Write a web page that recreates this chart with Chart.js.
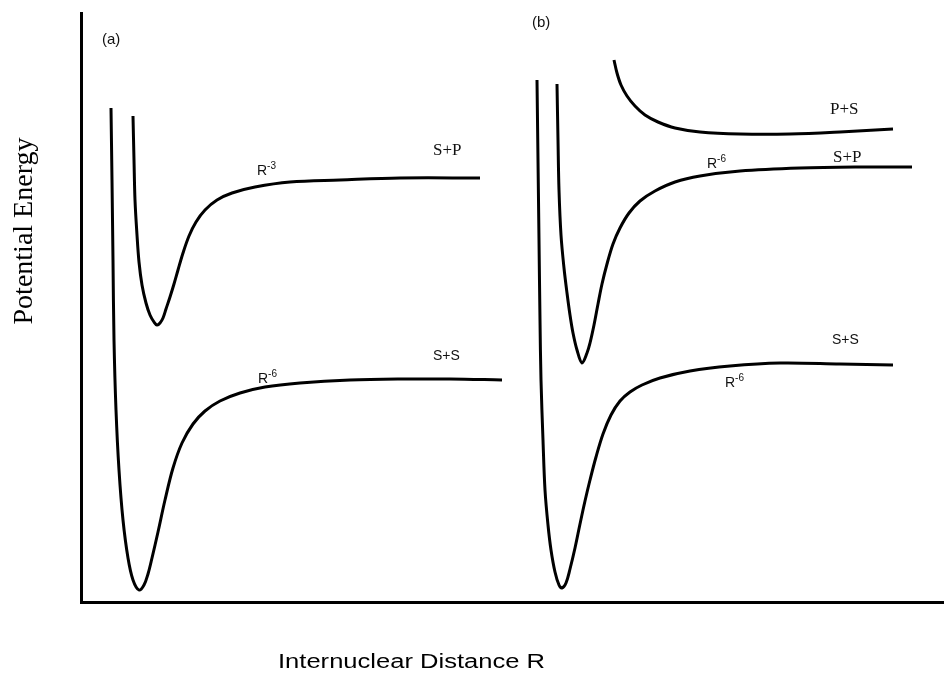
<!DOCTYPE html>
<html>
<head>
<meta charset="utf-8">
<script src="https://cdn.jsdelivr.net/npm/chart.js@4.4.1/dist/chart.umd.min.js"></script>
<style>
  html, body { margin: 0; padding: 0; background: #ffffff; }
  #wrap { width: 944px; height: 676px; }
</style>
</head>
<body>
<div id="wrap"><canvas id="grafica" width="944" height="676"></canvas></div>
<script>
// Curvas de energia potencial (unidades arbitrarias: R hacia la derecha, energia hacia arriba)
// (a) S+S, R^-6
const aSS_R = [30, 31, 32, 33, 35, 38, 42, 47, 52, 58, 63, 67, 71, 77, 84, 92, 101, 112, 124, 139, 159, 184, 219, 269, 319, 369, 421];
const aSS_E = [494, 422, 342, 262, 192, 132, 82, 44, 22, 12, 17, 28, 44, 70, 102, 134, 159, 178, 191, 201, 209, 215, 219, 222, 223, 223, 222];

// (a) S+P, R^-3
const aSP_R = [52, 53, 54, 56, 58, 61, 65, 69, 73, 76, 79, 82, 85, 89, 93, 97, 102, 108, 115, 124, 136, 151, 174, 209, 259, 319, 399];
const aSP_E = [486, 442, 402, 367, 340, 317, 299, 287, 280, 277, 279, 284, 293, 305, 318, 332, 349, 366, 380, 392, 402, 409, 415, 420, 422, 424, 424];

// (b) S+S, R^-6
const bSS_R = [456, 457, 458, 459, 460, 462, 464, 467, 470, 474, 478, 481, 485, 489, 494, 499, 504, 509, 515, 522, 530, 539, 549, 561, 579, 609, 649, 699, 759, 812];
const bSS_E = [522, 442, 362, 282, 222, 162, 112, 77, 52, 30, 17, 14, 19, 33, 54, 78, 101, 122, 145, 168, 187, 201, 210, 217, 224, 231, 236, 239, 238, 237];

// (b) S+P, R^-6
const bSP_R = [476, 477, 478, 480, 483, 486, 489, 492, 496, 501, 506, 509, 513, 517, 521, 526, 532, 539, 548, 559, 574, 594, 619, 659, 719, 779, 831];
const bSP_E = [518, 462, 412, 367, 334, 309, 287, 269, 252, 239, 249, 259, 277, 298, 318, 338, 358, 374, 389, 401, 411, 420, 426, 431, 434, 435, 435];

// (b) P+S, repulsiva
const bPS_R = [533, 536, 540, 546, 554, 564, 577, 594, 619, 659, 709, 759, 812];
const bPS_E = [542, 529, 517, 506, 496, 487, 480, 474, 470, 468, 468, 470, 473];

// Textos
const etiquetasPanel = ['(a)', '(b)'];
const etiquetasAsintota = ['S+P', 'S+S', 'P+S', 'S+P', 'S+S'];
const etiquetasPotencia = ['-3', '-6', '-6', '-6'];
const tituloX = 'Internuclear Distance R';
const tituloY = 'Potential Energy';

function puntos(rs, es) {
    let pts = [];
    for (let i = 0; i < rs.length; i++) {
        pts.push({ x: rs[i], y: es[i] });
    }
    return pts;
}

function serie(rs, es) {
    return {
        data: puntos(rs, es),
        showLine: true,
        borderColor: '#000000',
        borderWidth: 3,
        pointRadius: 0,
        tension: 0.35,
        fill: false
    };
}

// Textos dibujados sobre el grafico
const textos = {
    id: 'textos',
    afterDraw(chart) {
        const c = chart.ctx;
        const sx = chart.scales.x;
        const sy = chart.scales.y;
        const px = v => sx.getPixelForValue(v);
        const py = v => sy.getPixelForValue(v);
        c.save();
        c.fillStyle = '#111111';
        c.textBaseline = 'alphabetic';
        c.textAlign = 'left';

        // (a), (b)
        c.font = '15px "Liberation Sans", Arial, sans-serif';
        const posPanel = [[21, 558], [451, 575]];
        etiquetasPanel.forEach((t, i) => c.fillText(t, px(posPanel[i][0]), py(posPanel[i][1])));

        // asintotas
        const posAsint = [[352, 447, 'serif'], [352, 242, 'sans'], [749, 488, 'serif'], [752, 440, 'serif'], [751, 258, 'sans']];
        etiquetasAsintota.forEach((t, i) => {
            const p = posAsint[i];
            c.font = p[2] === 'serif' ? '17px "Liberation Serif", "Times New Roman", serif' : '14px "Liberation Sans", Arial, sans-serif';
            c.fillText(t, px(p[0]), py(p[1]));
        });

        // R con exponente
        const posPot = [[176, 427], [177, 219], [626, 434], [644, 215]];
        etiquetasPotencia.forEach((t, i) => {
            const x = px(posPot[i][0]);
            const y = py(posPot[i][1]);
            c.font = '14px "Liberation Sans", Arial, sans-serif';
            c.fillText('R', x, y);
            const w = c.measureText('R').width;
            c.font = '10px "Liberation Sans", Arial, sans-serif';
            c.fillText(t, x + w, y - 6);
        });

        // titulo eje x
        c.fillStyle = '#000000';
        c.font = '20px "Liberation Sans", Arial, sans-serif';
        c.save();
        c.translate(278, 668);
        const wx = c.measureText(tituloX).width;
        c.scale(267 / wx, 1);
        c.fillText(tituloX, 0, 0);
        c.restore();

        // titulo eje y
        c.font = '28px "Liberation Serif", "Times New Roman", serif';
        c.save();
        c.translate(32, 231);
        c.rotate(-Math.PI / 2);
        c.textAlign = 'center';
        c.fillText(tituloY, 0, 0);
        c.restore();

        c.restore();
    }
};

const ctx = document.getElementById('grafica');
const chart = new Chart(ctx, {
    type: 'scatter',
    data: {
        datasets: [
            serie(aSS_R, aSS_E),
            serie(aSP_R, aSP_E),
            serie(bSS_R, bSS_E),
            serie(bSP_R, bSP_E),
            serie(bPS_R, bPS_E)
        ]
    },
    options: {
        responsive: false,
        animation: false,
        layout: {
            padding: { left: 81, right: 0, top: 13, bottom: 74 }
        },
        plugins: {
            legend: { display: false },
            tooltip: { enabled: false }
        },
        scales: {
            x: {
                type: 'linear',
                min: 0,
                max: 863,
                ticks: { display: false },
                grid: { display: false, drawTicks: false },
                border: { display: true, color: '#000000', width: 3 }
            },
            y: {
                type: 'linear',
                min: 0,
                max: 589,
                ticks: { display: false },
                grid: { display: false, drawTicks: false },
                border: { display: true, color: '#000000', width: 3 }
            }
        }
    },
    plugins: [textos]
});
</script>
</body>
</html>
